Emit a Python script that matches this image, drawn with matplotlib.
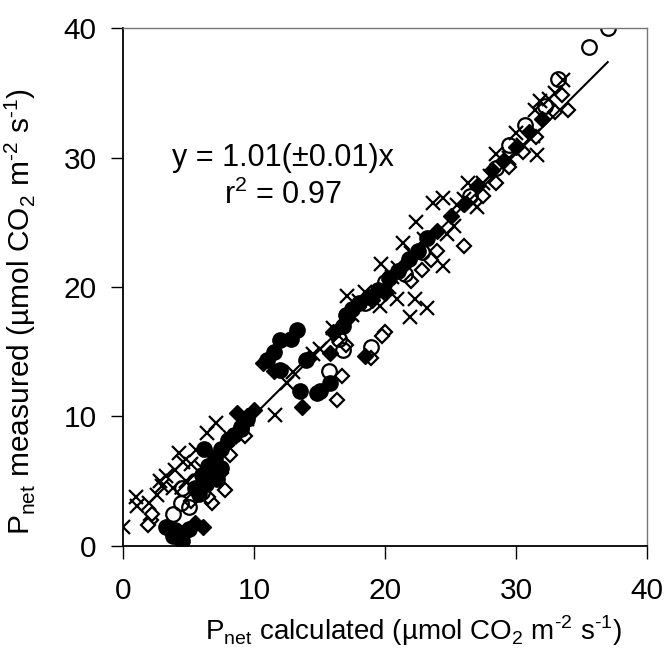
import numpy as np
import matplotlib
matplotlib.use('Agg')
import matplotlib.pyplot as plt

plt.rcParams['font.family'] = ['Liberation Sans', 'DejaVu Sans']
plt.rcParams['mathtext.fontset'] = 'custom'
plt.rcParams['mathtext.rm'] = 'Liberation Sans'

# crosses
cross_x = [0.0, 1.0, 1.1, 2.6, 3.3, 4.0, 4.3, 5.6, 6.4, 7.1, 11.6, 17.1, 19.6, 3.0, 2.0, 3.8,
           4.8, 5.2, 6.0, 7.0, 8.2, 9.5, 14.5, 16.5, 17.5, 18.5, 19.7, 20.9, 21.9, 23.2, 22.3,
           24.4, 24.7, 22.4, 23.7, 24.4, 25.3, 27.0, 26.3, 26.7, 28.5, 30.0, 31.3, 31.6, 31.8,
           31.45, 33.6, 32.5, 33.0, 29.5, 30.5, 28.0, 27.5, 26.0, 25.5, 21.0, 20.5, 22.0, 23.0,
           18.0, 16.0, 15.0, 13.0, 12.5, 21.4, 20.3, 2.8, 4.6]
cross_y = [1.5, 3.8, 3.1, 3.9, 5.4, 5.9, 7.2, 7.4, 8.7, 9.5, 10.1, 19.3, 18.5, 4.6, 3.3, 4.5,
           5.0, 6.3, 6.0, 7.2, 8.4, 9.8, 14.8, 16.2, 17.8, 19.6, 21.8, 19.1, 17.7, 18.4, 19.1,
           21.6, 24.1, 25.0, 26.5, 26.9, 24.7, 26.2, 28.0, 26.5, 30.3, 31.9, 31.7, 30.2, 34.4,
           33.7, 36.0, 34.5, 35.0, 30.0, 31.0, 28.6, 28.0, 26.8, 26.3, 21.5, 20.8, 22.6, 23.7,
           18.9, 16.8, 15.2, 13.4, 12.6, 23.4, 20.0, 5.0, 6.5]

# open circles
ocirc_x = [37.0, 35.6, 33.2, 32.2, 30.7, 29.5, 22.8, 21.5, 20.0, 18.9, 16.8, 15.7, 16.5, 18.5,
           4.5, 5.5, 5.0, 6.0, 6.6, 7.2, 3.8, 4.4, 9.0, 26.5, 28.5]
ocirc_y = [40.0, 38.5, 36.1, 34.0, 32.5, 31.0, 22.7, 21.0, 20.4, 15.4, 15.1, 13.5, 16.0, 18.8,
           4.5, 5.0, 3.0, 4.2, 5.6, 6.1, 2.5, 3.3, 9.2, 27.0, 29.2]

# filled circles
fcirc_x = [13.3, 12.0, 12.0, 14.0, 13.5, 15.0, 15.8, 11.5, 12.8, 11.0, 3.3, 4.6, 4.5, 4.0, 3.8,
           5.0, 5.5, 6.0, 6.5, 7.0, 7.5, 8.0, 8.5, 9.0, 9.5, 6.2, 5.8, 7.5, 6.8, 17.5, 18.0,
           18.8, 19.5, 17.0, 20.3, 21.0, 21.8, 22.5, 23.2, 16.8, 14.8, 6.3, 7.2]
fcirc_y = [16.7, 15.9, 13.6, 14.4, 12.0, 12.0, 12.6, 15.0, 16.0, 14.4, 1.5, 1.0, 0.4, 1.2, 0.8,
           1.3, 4.5, 5.5, 6.2, 6.8, 7.5, 8.2, 8.6, 9.0, 9.8, 7.5, 4.0, 6.0, 5.8, 18.3, 18.8,
           19.2, 19.8, 17.8, 20.7, 21.2, 22.2, 22.8, 23.8, 17.0, 11.8, 4.8, 5.2]

# filled diamonds
fdiam_x = [10.7, 13.7, 8.7, 6.1, 15.8, 17.1, 11.5, 9.5, 10.0, 8.3, 7.8, 5.5, 6.0, 18.5, 20.0,
           21.5, 24.0, 25.0, 26.0, 27.0, 28.2, 29.0, 30.0, 31.0, 32.0, 19.0, 16.0, 14.2]
fdiam_y = [14.1, 10.75, 10.3, 1.5, 14.9, 17.5, 13.5, 10.0, 10.5, 8.4, 7.8, 1.8, 4.8, 14.7, 19.5,
           21.8, 24.3, 25.5, 26.4, 27.8, 29.0, 29.7, 30.8, 32.0, 33.0, 19.0, 16.5, 14.5]

# open diamonds
odiam_x = [2.1, 2.2, 1.9, 16.3, 16.7, 18.9, 20.0, 19.8, 26.0, 6.8, 7.8, 7.5, 6.5, 17.0, 22.0,
           22.8, 23.5, 24.0, 27.5, 28.5, 29.5, 30.5, 31.5, 33.0, 34.0, 33.5, 8.2, 9.3, 5.2]
odiam_y = [2.0, 2.5, 1.6, 11.3, 13.1, 14.5, 16.55, 16.2, 23.2, 3.3, 4.3, 5.6, 3.8, 15.5, 20.5,
           21.3, 22.1, 22.8, 27.0, 28.0, 29.3, 30.4, 31.6, 33.5, 33.7, 34.8, 7.0, 8.5, 3.5]

slope = 1.01
fit_x = [4.0, 37.0]

fig = plt.figure(figsize=(6.66, 6.52), dpi=100)
ax = fig.add_axes([0.1847, 0.1626, 0.7868, 0.7944])

ax.plot(cross_x, cross_y, 'x', color='black', markersize=9.5, markeredgewidth=1.6)
ax.plot(odiam_x, odiam_y, 'D', mfc='white', mec='black', markersize=7.5, markeredgewidth=1.6)
ax.plot(fdiam_x, fdiam_y, 'D', color='black', markersize=8)
ax.plot(fcirc_x, fcirc_y, 'o', color='black', markersize=11)
ax.plot(ocirc_x, ocirc_y, 'o', mfc='none', mec='black', markersize=10.5, markeredgewidth=1.6)
ax.plot(fit_x, [slope * v for v in fit_x], color='black', lw=1.5)

ax.set_xlim(0, 40)
ax.set_ylim(0, 40)
ax.set_xticks([0, 10, 20, 30, 40])
ax.set_yticks([0, 10, 20, 30, 40])
ax.tick_params(labelsize=21.5, length=9, width=1, direction='out', color='black')
ax.tick_params(axis='x', pad=13)
ax.tick_params(axis='y', pad=10)
for s in ['left', 'bottom']:
    ax.spines[s].set_color('black')
    ax.spines[s].set_linewidth(1.3)
for s in ['top', 'right']:
    ax.spines[s].set_color('#777777')
    ax.spines[s].set_linewidth(1)

ax.text(12.2, 30.0, 'y = 1.01(±0.01)x', fontsize=22, ha='center', va='center')
ax.text(12.2, 27.1, r'r$^{\mathregular{2}}$ = 0.97', fontsize=22, ha='center', va='center')

ax.set_xlabel('P$_{\\mathregular{net}}$ calculated (µmol CO$_{\\mathregular{2}}$ m$^{\\mathregular{\u20102}}$ s$^{\\mathregular{\u20101}}$)',
              fontsize=20)
ax.set_ylabel('P$_{\\mathregular{net}}$ measured (µmol CO$_{\\mathregular{2}}$ m$^{\\mathregular{\u20102}}$ s$^{\\mathregular{\u20101}}$)',
              fontsize=21.5)
ax.xaxis.set_label_coords(0.555, -0.131)
ax.yaxis.set_label_coords(-0.163, 0.452)

fig.savefig('out.png', dpi=100)
